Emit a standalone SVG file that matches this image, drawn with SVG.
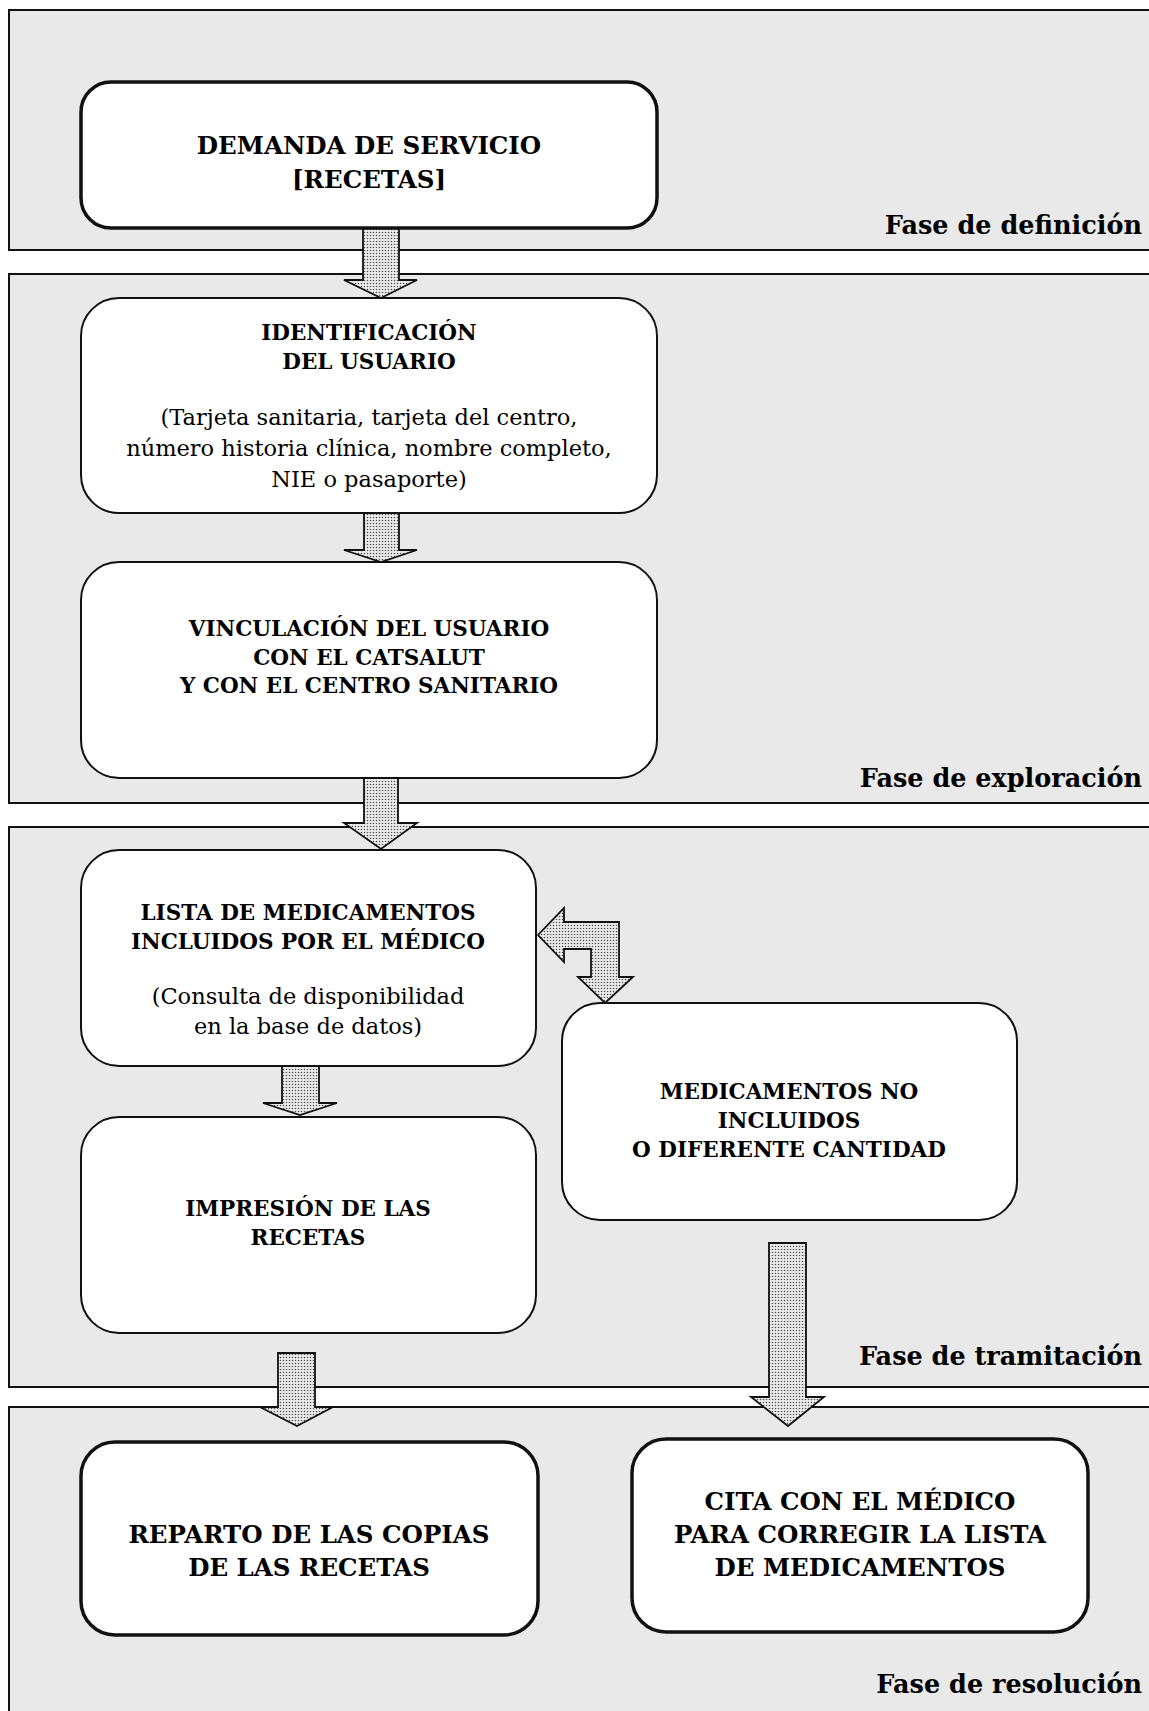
<svg xmlns="http://www.w3.org/2000/svg" width="1149" height="1711" viewBox="0 0 1149 1711">
  <defs>
    <pattern id="dots" width="3" height="3" patternUnits="userSpaceOnUse">
      <rect width="3" height="3" fill="#ececec"/>
      <circle cx="1.5" cy="1.5" r="0.8" fill="#555"/>
    </pattern>
    <style>
      .phase { fill: #e9e9e9; stroke: #111; stroke-width: 2; }
      .box { fill: #fff; stroke: #111; stroke-width: 2; }
      .box-strong { fill: #fff; stroke: #111; stroke-width: 3.5; }
      .arrow { fill: url(#dots); stroke: #111; stroke-width: 1.8; stroke-linejoin: miter; }
      .t { font-family: "DejaVu Serif", "Liberation Serif", serif; fill: #000; text-anchor: middle; }
      .b { font-weight: bold; font-size: 21.5px; }
      .bl { font-weight: bold; font-size: 24.5px; }
      .r { font-size: 22.5px; }
      .phase-label { font-family: "DejaVu Serif", "Liberation Serif", serif; font-weight: bold; font-size: 25.5px; text-anchor: end; fill: #000; }
    </style>
  </defs>

  <!-- phase bands -->
  <g id="phases">
    <g id="phase-definicion">
      <rect class="phase" x="9" y="10" width="1160" height="240"/>
      <text class="phase-label" x="1142" y="234">Fase de definición</text>
    </g>
    <g id="phase-exploracion">
      <rect class="phase" x="9" y="274" width="1160" height="529"/>
      <text class="phase-label" x="1142" y="787">Fase de exploración</text>
    </g>
    <g id="phase-tramitacion">
      <rect class="phase" x="9" y="827" width="1160" height="560"/>
      <text class="phase-label" x="1142" y="1365">Fase de tramitación</text>
    </g>
    <g id="phase-resolucion">
      <rect class="phase" x="9" y="1407" width="1160" height="320"/>
      <text class="phase-label" x="1142" y="1693">Fase de resolución</text>
    </g>
  </g>

  <!-- block arrows -->
  <g id="connectors">
    <path class="arrow" d="M363,228 L399,228 L399,280 L417,280 L381,298 L344,280 L363,280 Z"/>
    <path class="arrow" d="M364,513 L399,513 L399,550 L417,550 L381,562 L344,550 L364,550 Z"/>
    <path class="arrow" d="M364,778 L398,778 L398,823 L417,823 L381,849 L344,823 L364,823 Z"/>
    <path class="arrow" d="M538,935 L564,908 L564,922 L619,922 L619,977 L633,977 L605,1003 L578,977 L591,977 L591,949 L564,949 L564,962 Z"/>
    <path class="arrow" d="M282,1066 L319,1066 L319,1103 L337,1103 L300,1115 L263,1103 L282,1103 Z"/>
    <path class="arrow" d="M278,1353 L315,1353 L315,1407 L333,1407 L297,1426 L260,1407 L278,1407 Z"/>
    <path class="arrow" d="M769,1243 L806,1243 L806,1397 L824,1397 L788,1426 L751,1397 L769,1397 Z"/>
  </g>

  <g id="node-demanda">
    <rect class="box-strong" x="81" y="82" width="576" height="146" rx="30"/>
    <text class="t bl" x="369" y="154">DEMANDA DE SERVICIO</text>
    <text class="t bl" x="369" y="188">[RECETAS]</text>
  </g>

  <g id="node-identificacion">
    <rect class="box" x="81" y="298" width="576" height="215" rx="38"/>
    <text class="t b" x="369" y="340">IDENTIFICACIÓN</text>
    <text class="t b" x="369" y="369">DEL USUARIO</text>
    <text class="t r" x="369" y="425">(Tarjeta sanitaria, tarjeta del centro,</text>
    <text class="t r" x="369" y="456">número historia clínica, nombre completo,</text>
    <text class="t r" x="369" y="487">NIE o pasaporte)</text>
  </g>

  <g id="node-vinculacion">
    <rect class="box" x="81" y="562" width="576" height="216" rx="38"/>
    <text class="t b" x="369" y="636">VINCULACIÓN DEL USUARIO</text>
    <text class="t b" x="369" y="665">CON EL CATSALUT</text>
    <text class="t b" x="369" y="693">Y CON EL CENTRO SANITARIO</text>
  </g>

  <g id="node-lista">
    <rect class="box" x="81" y="850" width="455" height="216" rx="38"/>
    <text class="t b" x="308" y="920">LISTA DE MEDICAMENTOS</text>
    <text class="t b" x="308" y="949">INCLUIDOS POR EL MÉDICO</text>
    <text class="t r" x="308" y="1004">(Consulta de disponibilidad</text>
    <text class="t r" x="308" y="1034">en la base de datos)</text>
  </g>

  <g id="node-no-incluidos">
    <rect class="box" x="562" y="1003" width="455" height="217" rx="38"/>
    <text class="t b" x="789" y="1099">MEDICAMENTOS NO</text>
    <text class="t b" x="789" y="1128">INCLUIDOS</text>
    <text class="t b" x="789" y="1157">O DIFERENTE CANTIDAD</text>
  </g>

  <g id="node-impresion">
    <rect class="box" x="81" y="1117" width="455" height="216" rx="38"/>
    <text class="t b" x="308" y="1216">IMPRESIÓN DE LAS</text>
    <text class="t b" x="308" y="1245">RECETAS</text>
  </g>

  <g id="node-reparto">
    <rect class="box-strong" x="81" y="1442" width="457" height="193" rx="34"/>
    <text class="t bl" x="309" y="1543">REPARTO DE LAS COPIAS</text>
    <text class="t bl" x="309" y="1576">DE LAS RECETAS</text>
  </g>

  <g id="node-cita">
    <rect class="box-strong" x="632" y="1439" width="456" height="193" rx="34"/>
    <text class="t bl" x="860" y="1510">CITA CON EL MÉDICO</text>
    <text class="t bl" x="860" y="1543">PARA CORREGIR LA LISTA</text>
    <text class="t bl" x="860" y="1576">DE MEDICAMENTOS</text>
  </g>
</svg>
